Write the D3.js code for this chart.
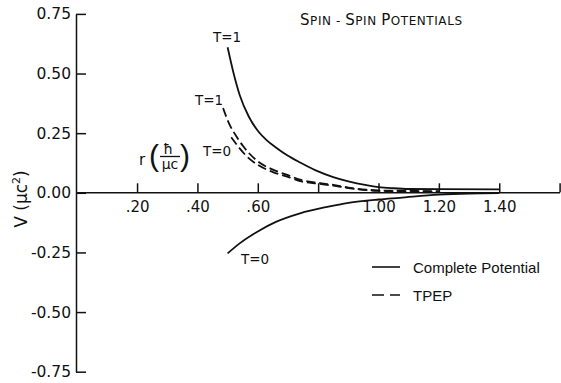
<!DOCTYPE html>
<html>
<head>
<meta charset="utf-8">
<script src="https://cdn.jsdelivr.net/npm/d3@7"></script>
<style>
  html, body { margin: 0; padding: 0; background: #fff; }
  svg { display: block; }
  text { fill: #111; }
</style>
</head>
<body>
<svg id="chart" width="561" height="383"></svg>
<script>
// ---- data ----
const xTickValues = [0.2, 0.4, 0.6, 0.8, 1.0, 1.2, 1.4, 1.6];
const xTickLabels = [".20", ".40", ".60", "", "1.00", "1.20", "1.40", ""];
const yTickValues = [-0.75, -0.5, -0.25, 0, 0.25, 0.5, 0.75];
const yTickLabels = ["-0.75", "-0.50", "-0.25", "0.00", "0.25", "0.50", "0.75"];

// Complete potential, T = 1
const rSolidT1 = [0.50, 0.52, 0.54, 0.57, 0.60, 0.63, 0.66, 0.70, 0.74, 0.79, 0.85, 0.90, 0.96, 1.00, 1.05, 1.10, 1.20, 1.40];
const vSolidT1 = [0.61, 0.50, 0.41, 0.32, 0.26, 0.22, 0.19, 0.155, 0.127, 0.095, 0.066, 0.048, 0.032, 0.024, 0.019, 0.016, 0.015, 0.014];
// Complete potential, T = 0
const rSolidT0 = [0.50, 0.54, 0.60, 0.66, 0.74, 0.83, 0.90, 1.00, 1.07, 1.20, 1.30, 1.40];
const vSolidT0 = [-0.254, -0.212, -0.162, -0.122, -0.086, -0.059, -0.042, -0.028, -0.021, -0.008, -0.003, -0.001];
// TPEP, T = 1
const rDashT1 = [0.485, 0.505, 0.53, 0.55, 0.60, 0.65, 0.70, 0.74, 0.80, 0.85, 0.90, 0.96, 1.00, 1.10, 1.20];
const vDashT1 = [0.355, 0.29, 0.235, 0.198, 0.132, 0.097, 0.074, 0.055, 0.042, 0.033, 0.022, 0.013, 0.010, 0.008, 0.007];
// TPEP, T = 0
const rDashT0 = [0.512, 0.54, 0.56, 0.60, 0.65, 0.70, 0.74, 0.80, 0.85, 0.90, 0.96, 1.00, 1.10, 1.20];
const vDashT0 = [0.233, 0.186, 0.157, 0.117, 0.087, 0.067, 0.049, 0.038, 0.030, 0.020, 0.011, 0.008, 0.006, 0.005];

const titleParts = [["S", true], ["PIN - ", false], ["S", true], ["PIN ", false], ["P", true], ["OTENTIALS", false]];

// ---- drawing ----
const svg = d3.select("#chart");
const x = d3.scaleLinear().domain([0, 1.6]).range([76.7, 559.6]);
const y = d3.scaleLinear().domain([-0.75, 0.75]).range([371.7, 13.9]);

const ink = "#111";

// Y axis
const yAxis = d3.axisLeft(y)
  .tickValues(yTickValues)
  .tickFormat((d, i) => yTickLabels[i])
  .tickSizeInner(-10).tickSizeOuter(0).tickPadding(5);
const gy = svg.append("g").attr("transform", "translate(76,0)").call(yAxis);
gy.selectAll("path, line").attr("stroke", ink).attr("stroke-width", 1.5);
gy.selectAll("text").attr("font-family", "DejaVu Sans").attr("font-size", 15.5).attr("fill", ink);

// X axis
const xAxis = d3.axisBottom(x)
  .tickValues(xTickValues)
  .tickFormat((d, i) => xTickLabels[i])
  .tickSizeInner(-9).tickSizeOuter(0).tickPadding(9);
const gx = svg.append("g").attr("transform", `translate(0,${y(0) - 0.5})`).call(xAxis);
gx.selectAll("path, line").attr("stroke", ink).attr("stroke-width", 1.5);
gx.selectAll("text").attr("font-family", "DejaVu Sans").attr("font-size", 15).attr("fill", ink);

// curves
const line = d3.line().x(d => x(d[0])).y(d => y(d[1])).curve(d3.curveMonotoneX);
const zip = (a, b) => a.map((v, i) => [v, b[i]]);
const series = [
  { r: rSolidT1, v: vSolidT1, dash: null },
  { r: rSolidT0, v: vSolidT0, dash: null },
  { r: rDashT1, v: vDashT1, dash: "9,4" },
  { r: rDashT0, v: vDashT0, dash: "9,4" }
];
svg.append("g").selectAll("path").data(series).join("path")
  .attr("d", d => line(zip(d.r, d.v)))
  .attr("fill", "none")
  .attr("stroke", ink)
  .attr("stroke-width", 1.8)
  .attr("stroke-dasharray", d => d.dash);

// curve labels
const tLabels = [
  { t: "T=1", x: 213, y: 42 },
  { t: "T=1", x: 195, y: 105 },
  { t: "T=0", x: 203, y: 156 },
  { t: "T=0", x: 241, y: 264 }
];
svg.append("g").selectAll("text").data(tLabels).join("text")
  .attr("x", d => d.x).attr("y", d => d.y)
  .attr("font-family", "DejaVu Sans").attr("font-size", 13.5)
  .text(d => d.t);

// title (small caps)
const title = svg.append("text")
  .attr("x", 300).attr("y", 25)
  .attr("font-family", "DejaVu Sans")
  .attr("textLength", 162).attr("lengthAdjust", "spacing");
titleParts.forEach(([s, big]) => {
  title.append("tspan").attr("font-size", big ? 15 : 12).text(s);
});

// y axis label
const yl = svg.append("text")
  .attr("transform", "translate(27,199) rotate(-90)")
  .attr("text-anchor", "middle")
  .attr("font-family", "DejaVu Sans").attr("font-size", 17);
yl.append("tspan").text("V (\u03bcc");
yl.append("tspan").attr("font-size", 11).attr("dy", -7).text("2");
yl.append("tspan").attr("dy", 7).text(")");

// x axis label r(ħ/μc)
const xl = svg.append("g");
xl.append("text").attr("x", 139).attr("y", 165).attr("font-family", "DejaVu Sans").attr("font-size", 15).text("r");
xl.append("text").attr("x", 149).attr("y", 166).attr("font-family", "Liberation Sans").attr("font-size", 30).text("(");
xl.append("text").attr("x", 168).attr("y", 154).attr("text-anchor", "middle").attr("font-family", "DejaVu Sans").attr("font-size", 14).text("\u0127");
xl.append("line").attr("x1", 160).attr("x2", 180).attr("y1", 156.5).attr("y2", 156.5).attr("stroke", ink).attr("stroke-width", 1.3);
xl.append("text").attr("x", 170).attr("y", 169).attr("text-anchor", "middle").attr("font-family", "DejaVu Sans").attr("font-size", 14).text("\u03bcc");
xl.append("text").attr("x", 180).attr("y", 166).attr("font-family", "Liberation Sans").attr("font-size", 30).text(")");

// legend
const legendItems = [
  { label: "Complete Potential", dash: null, y: 267 },
  { label: "TPEP", dash: "12,6", y: 295 }
];
const lg = svg.append("g").selectAll("g").data(legendItems).join("g");
lg.append("line")
  .attr("x1", 372).attr("x2", 400)
  .attr("y1", d => d.y).attr("y2", d => d.y)
  .attr("stroke", ink).attr("stroke-width", 1.6)
  .attr("stroke-dasharray", d => d.dash);
lg.append("text")
  .attr("x", 413).attr("y", d => d.y + 6)
  .attr("font-family", "Liberation Sans").attr("font-size", 15)
  .text(d => d.label);
</script>
</body>
</html>
